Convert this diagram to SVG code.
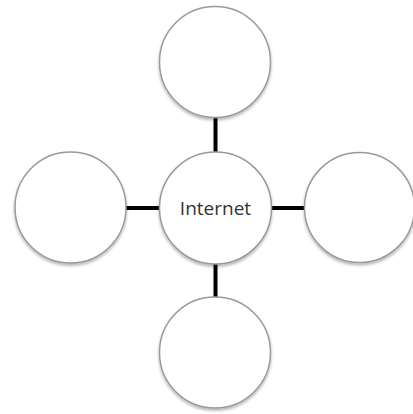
<svg xmlns="http://www.w3.org/2000/svg" width="413" height="414" viewBox="0 0 413 414">
<style>
.node{fill:#fff;stroke:#9a9a9a;stroke-width:1.5;filter:url(#sh)}
.conn{stroke:#000;stroke-width:4;fill:none}
.lbl{font-family:"Open Sans","Liberation Sans",sans-serif;font-size:19px;fill:#333;text-anchor:middle}
</style>
<defs>
<filter id="sh" x="-20%" y="-20%" width="140%" height="140%">
<feDropShadow dx="0" dy="2" stdDeviation="1.5" flood-color="#000" flood-opacity="0.3"/>
</filter>
</defs>
<rect width="413" height="414" fill="#fff"/>
<g id="connectors">
<line class="conn" x1="215.5" y1="116" x2="215.5" y2="153"/>
<line class="conn" x1="215.5" y1="263" x2="215.5" y2="298"/>
<line class="conn" x1="125" y1="208" x2="160" y2="208"/>
<line class="conn" x1="271" y1="208" x2="306" y2="208"/>
</g>
<g id="top"><circle class="node" cx="215" cy="62" r="55.5"/></g>
<g id="left"><circle class="node" cx="70.5" cy="207.5" r="55.5"/></g>
<g id="right"><circle class="node" cx="359.5" cy="207.5" r="55"/></g>
<g id="bottom"><circle class="node" cx="215" cy="352.5" r="55.5"/></g>
<g id="internet"><circle class="node" cx="215.5" cy="208" r="56"/>
<text class="lbl" x="215.5" y="215">Internet</text></g>
</svg>
